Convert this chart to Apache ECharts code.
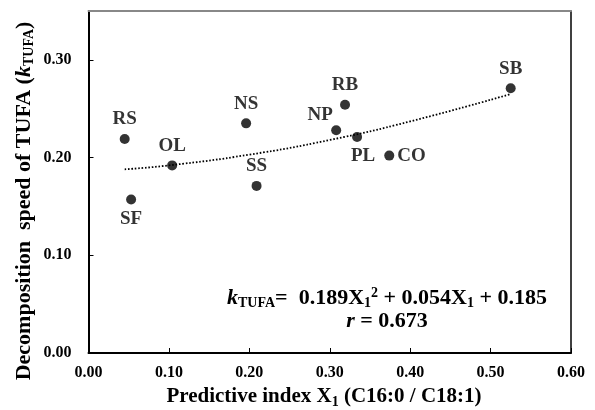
<!DOCTYPE html>
<html><head><meta charset="utf-8">
<script src="https://cdn.jsdelivr.net/npm/echarts@6/dist/echarts.min.js"></script>
<style>html,body{margin:0;padding:0;background:#fff}#c{width:595px;height:410px}</style>
</head><body><div id="c"></div>
<script>
// Data
var names = ['RS','SF','OL','NS','SS','NP','RB','PL','CO','SB'];
var xValues = [0.045,0.053,0.104,0.196,0.209,0.308,0.319,0.334,0.374,0.525];
var yValues = [0.219,0.157,0.192,0.235,0.171,0.228,0.254,0.221,0.202,0.271];
// Trend line points
var trendX = [0.045,0.10,0.20,0.30,0.40,0.525];
var trendY = [0.188,0.192,0.203,0.218,0.237,0.265];
var xTicks = ['0.00','0.10','0.20','0.30','0.40','0.50','0.60'];
var yTicks = ['0.00','0.10','0.20','0.30'];

var FONT = '"Liberation Serif","Times New Roman",serif';
var labelPlace = {
  RS:{position:'top'}, SF:{position:'bottom'}, OL:{position:'top'}, NS:{position:'top'},
  SS:{position:'top'}, NP:{position:'top',offset:[-16,4]}, RB:{position:'top'},
  PL:{position:'bottom',offset:[6,0]}, CO:{position:'right',distance:3}, SB:{position:'top'}
};
var pts = names.map(function(n,i){
  var lp = labelPlace[n];
  return {name:n, value:[xValues[i],yValues[i]], label:Object.assign({show:true,distance:5}, lp)};
});
var trend = trendX.map(function(x,i){return [x,trendY[i]];});

var chart = echarts.init(document.getElementById('c'));
var axisFont = {fontFamily:FONT,fontWeight:'bold',fontSize:16,color:'#000'};
chart.setOption({
  animation:false,
  backgroundColor:'#fff',
  grid:{left:88.5,right:24,top:11,bottom:57},
  xAxis:[{
    type:'value',min:0,max:0.6,interval:0.1,
    axisLine:{lineStyle:{color:'#000',width:2}},
    axisTick:{inside:true,length:5,lineStyle:{color:'#000',width:1}},
    splitLine:{show:false},
    axisLabel:Object.assign({margin:12,formatter:function(v){var i=Math.round(v*10);return xTicks[i]||'';}},axisFont)
  },{
    type:'value',position:'top',min:0,max:0.6,
    axisLine:{show:true,onZero:false,lineStyle:{color:'#888',width:2}},
    axisTick:{show:false},axisLabel:{show:false},splitLine:{show:false}
  }],
  yAxis:[{
    type:'value',min:0,max:0.35,interval:0.1,
    axisLine:{show:true,lineStyle:{color:'#000',width:2}},
    axisTick:{inside:true,length:5,lineStyle:{color:'#000',width:1}},
    splitLine:{show:false},
    axisLabel:Object.assign({margin:17,showMaxLabel:false,formatter:function(v){var i=Math.round(v*10);return Math.abs(v*10-i)<1e-6?(yTicks[i]||''):'';}},axisFont)
  },{
    type:'value',position:'right',min:0,max:0.35,
    axisLine:{show:true,onZero:false,lineStyle:{color:'#000',width:1.5}},
    axisTick:{show:false},axisLabel:{show:false},splitLine:{show:false}
  }],
  series:[{
    type:'line',data:trend,smooth:true,showSymbol:false,symbol:'none',
    lineStyle:{color:'#000',width:1.8,type:[1.6,1.8]},z:1
  },{
    type:'scatter',data:pts,symbolSize:10,itemStyle:{color:'#000'},z:2,
    label:{formatter:'{b}',fontFamily:FONT,fontWeight:'bold',fontSize:19,color:'#000'}
  }],
  graphic:[{
    type:'text',
    style:{
      x:387,y:298,align:'center',verticalAlign:'middle',
      text:'{ki|k}{sub|TUFA}{n|=  0.189X}{sub|1}{sup|2}{n| + 0.054X}{sub|1}{n| + 0.185}',
      font:'bold 22px '+FONT,fill:'#000',
      rich:{
        ki:{fontFamily:FONT,fontWeight:'bold',fontStyle:'italic',fontSize:22},
        n:{fontFamily:FONT,fontWeight:'bold',fontSize:22},
        sub:{fontFamily:FONT,fontWeight:'bold',fontSize:14,padding:[11,0,0,0]},
        sup:{fontFamily:FONT,fontWeight:'bold',fontSize:14,padding:[0,0,10,0]}
      }
    }
  },{
    type:'text',
    style:{
      x:387,y:321,align:'center',verticalAlign:'middle',
      text:'{ri|r}{n| = 0.673}',font:'bold 22px '+FONT,fill:'#000',
      rich:{
        ri:{fontFamily:FONT,fontWeight:'bold',fontStyle:'italic',fontSize:22},
        n:{fontFamily:FONT,fontWeight:'bold',fontSize:22}
      }
    }
  },{
    type:'text',
    style:{
      x:324,y:397,align:'center',verticalAlign:'middle',
      text:'{n|Predictive index X}{sub|1}{n| (C16:0 / C18:1)}',font:'bold 21px '+FONT,fill:'#000',
      rich:{
        n:{fontFamily:FONT,fontWeight:'bold',fontSize:21},
        sub:{fontFamily:FONT,fontWeight:'bold',fontSize:14,padding:[10,0,0,0]}
      }
    }
  },{
    type:'text',rotation:Math.PI/2,x:24,y:201,
    style:{
      x:0,y:0,align:'center',verticalAlign:'middle',
      text:'{n|Decomposition  speed of TUFA (}{ki|k}{sub|TUFA}{n|)}',font:'bold 22px '+FONT,fill:'#000',
      rich:{
        n:{fontFamily:FONT,fontWeight:'bold',fontSize:22},
        ki:{fontFamily:FONT,fontWeight:'bold',fontStyle:'italic',fontSize:22},
        sub:{fontFamily:FONT,fontWeight:'bold',fontSize:14,padding:[10,0,0,0]}
      }
    }
  }]
});
</script></body></html>
